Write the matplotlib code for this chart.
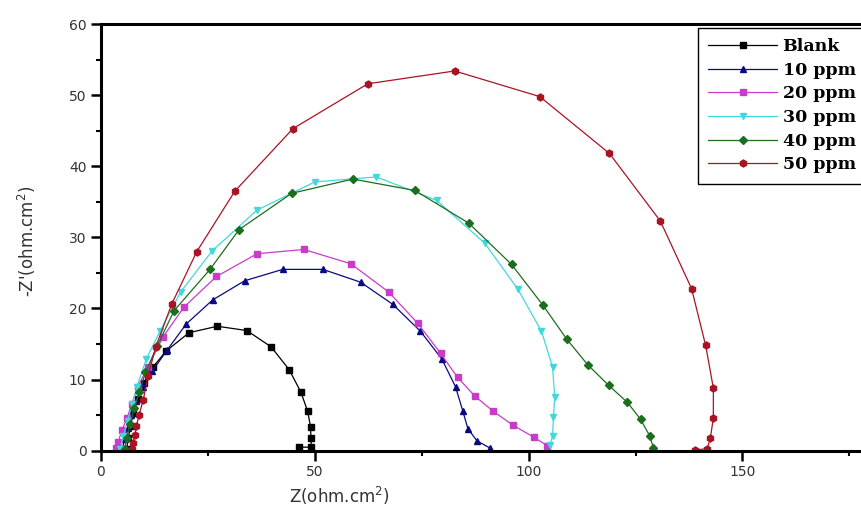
import matplotlib.pyplot as plt
from matplotlib.ticker import MultipleLocator

# impedance data
blank_x = [6.0, 6.4, 6.9, 7.6, 8.6, 10.0, 12.2, 15.2, 20.6, 27.2, 34.1, 39.8, 44.0, 46.7, 48.3, 49.0, 49.1, 49.2, 46.3]
blank_y = [0.3, 1.8, 3.5, 5.3, 7.3, 9.5, 11.8, 14.0, 16.6, 17.5, 16.9, 14.6, 11.4, 8.3, 5.6, 3.4, 1.8, 0.5, 0.5]

ppm10_x = [5.0, 5.5, 6.2, 7.0, 8.2, 9.8, 12.0, 15.4, 19.9, 26.1, 33.6, 42.5, 51.9, 60.7, 68.2, 74.7, 79.7, 82.9, 84.6, 85.8, 87.9, 90.9]
ppm10_y = [0.3, 1.6, 3.2, 5.0, 7.0, 9.0, 11.2, 14.1, 17.8, 21.2, 23.9, 25.5, 25.5, 23.7, 20.6, 16.8, 12.9, 9.0, 5.6, 3.1, 1.4, 0.4]

ppm20_x = [3.5, 4.0, 4.9, 6.1, 7.2, 8.6, 11.0, 14.5, 19.4, 27.0, 36.5, 47.4, 58.4, 67.3, 74.1, 79.4, 83.4, 87.4, 91.6, 96.3, 101.2, 104.4]
ppm20_y = [0.4, 1.2, 2.9, 4.6, 6.6, 9.0, 11.8, 16.0, 20.2, 24.5, 27.7, 28.3, 26.3, 22.3, 17.9, 13.7, 10.3, 7.7, 5.6, 3.6, 1.9, 0.7]

ppm30_x = [4.5, 5.2, 6.2, 7.3, 8.4, 10.6, 13.8, 18.6, 26.0, 36.4, 50.0, 64.4, 78.5, 89.7, 97.4, 103.0, 105.6, 106.1, 105.8, 105.6, 105.0]
ppm30_y = [0.3, 2.0, 4.2, 6.5, 9.0, 12.9, 16.8, 22.3, 28.1, 33.8, 37.8, 38.5, 35.2, 29.2, 22.8, 16.8, 11.8, 7.5, 4.7, 2.1, 0.8]

ppm40_x = [5.5, 6.0, 6.8, 7.8, 9.0, 10.4, 13.1, 17.1, 25.5, 32.3, 44.6, 58.9, 73.4, 86.0, 96.0, 103.3, 108.9, 113.8, 118.7, 123.1, 126.2, 128.3, 129.2]
ppm40_y = [0.3, 1.8, 3.8, 6.0, 8.3, 11.0, 14.7, 19.7, 25.5, 31.1, 36.2, 38.2, 36.6, 32.0, 26.2, 20.5, 15.7, 12.1, 9.2, 6.8, 4.4, 2.1, 0.4]

ppm50_x = [7.2, 7.5, 7.9, 8.3, 8.9, 9.9, 11.0, 12.8, 16.6, 22.4, 31.3, 44.9, 62.4, 82.7, 102.6, 118.9, 130.8, 138.1, 141.4, 143.2, 143.2, 142.5, 141.8, 139.0]
ppm50_y = [0.2, 1.1, 2.2, 3.5, 5.0, 7.2, 10.5, 14.6, 20.7, 28.0, 36.5, 45.3, 51.6, 53.4, 49.8, 41.8, 32.3, 22.8, 14.8, 8.8, 4.6, 1.8, 0.3, 0.1]

labels = ['Blank', '10 ppm', '20 ppm', '30 ppm', '40 ppm', '50 ppm']

series = [
    (blank_x, blank_y, '#000000', 's'),
    (ppm10_x, ppm10_y, '#0a0a80', '^'),
    (ppm20_x, ppm20_y, '#c83cc8', 's'),
    (ppm30_x, ppm30_y, '#40d8dc', 'v'),
    (ppm40_x, ppm40_y, '#1c6e1c', 'D'),
    (ppm50_x, ppm50_y, '#a81424', 'h'),
]

fig = plt.figure(figsize=(8.61, 5.17), dpi=100)
# axes runs past the right edge, like the cropped original
ax = fig.add_axes([0.1173, 0.1282, 0.894, 0.8253])

for (x, y, c, m), lab in zip(series, labels):
    ms = 4.2 if m == 'D' else 5
    ax.plot(x, y, color=c, marker=m, markersize=ms, linewidth=0.9,
            markeredgecolor=c, label=lab)

ax.set_xlim(0, 180)
ax.set_ylim(0, 60)
ax.xaxis.set_major_locator(MultipleLocator(50))
ax.xaxis.set_minor_locator(MultipleLocator(25))
ax.yaxis.set_major_locator(MultipleLocator(10))
ax.yaxis.set_minor_locator(MultipleLocator(5))

for s in ['left', 'bottom', 'top', 'right']:
    ax.spines[s].set_linewidth(2.2)
ax.tick_params(which='major', direction='out', length=7, width=1.8,
               labelsize=10, labelcolor='#333333', top=False, right=False)
ax.tick_params(which='minor', direction='out', length=3.5, width=1.5,
               top=False, right=False)

ax.set_xlabel('Z(ohm.cm$^2$)', fontsize=12, color='#333333')
ax.xaxis.set_label_coords(0.31, -0.08)
ax.set_ylabel("-Z'(ohm.cm$^2$)", fontsize=12, color='#333333')
ax.yaxis.set_label_coords(-0.082, 0.49)

# legend box is cut off by the right edge in the original
leg = ax.legend(loc='upper left', bbox_to_anchor=(0.775, 0.991),
                prop={'family': 'DejaVu Serif', 'weight': 'bold', 'size': 12.5},
                handlelength=4.0, handletextpad=0.3, labelspacing=0.38,
                borderpad=0.6, borderaxespad=0, fancybox=False,
                framealpha=1, edgecolor='black')
leg.get_frame().set_linewidth(1.0)

fig.savefig('out.png', dpi=100)
